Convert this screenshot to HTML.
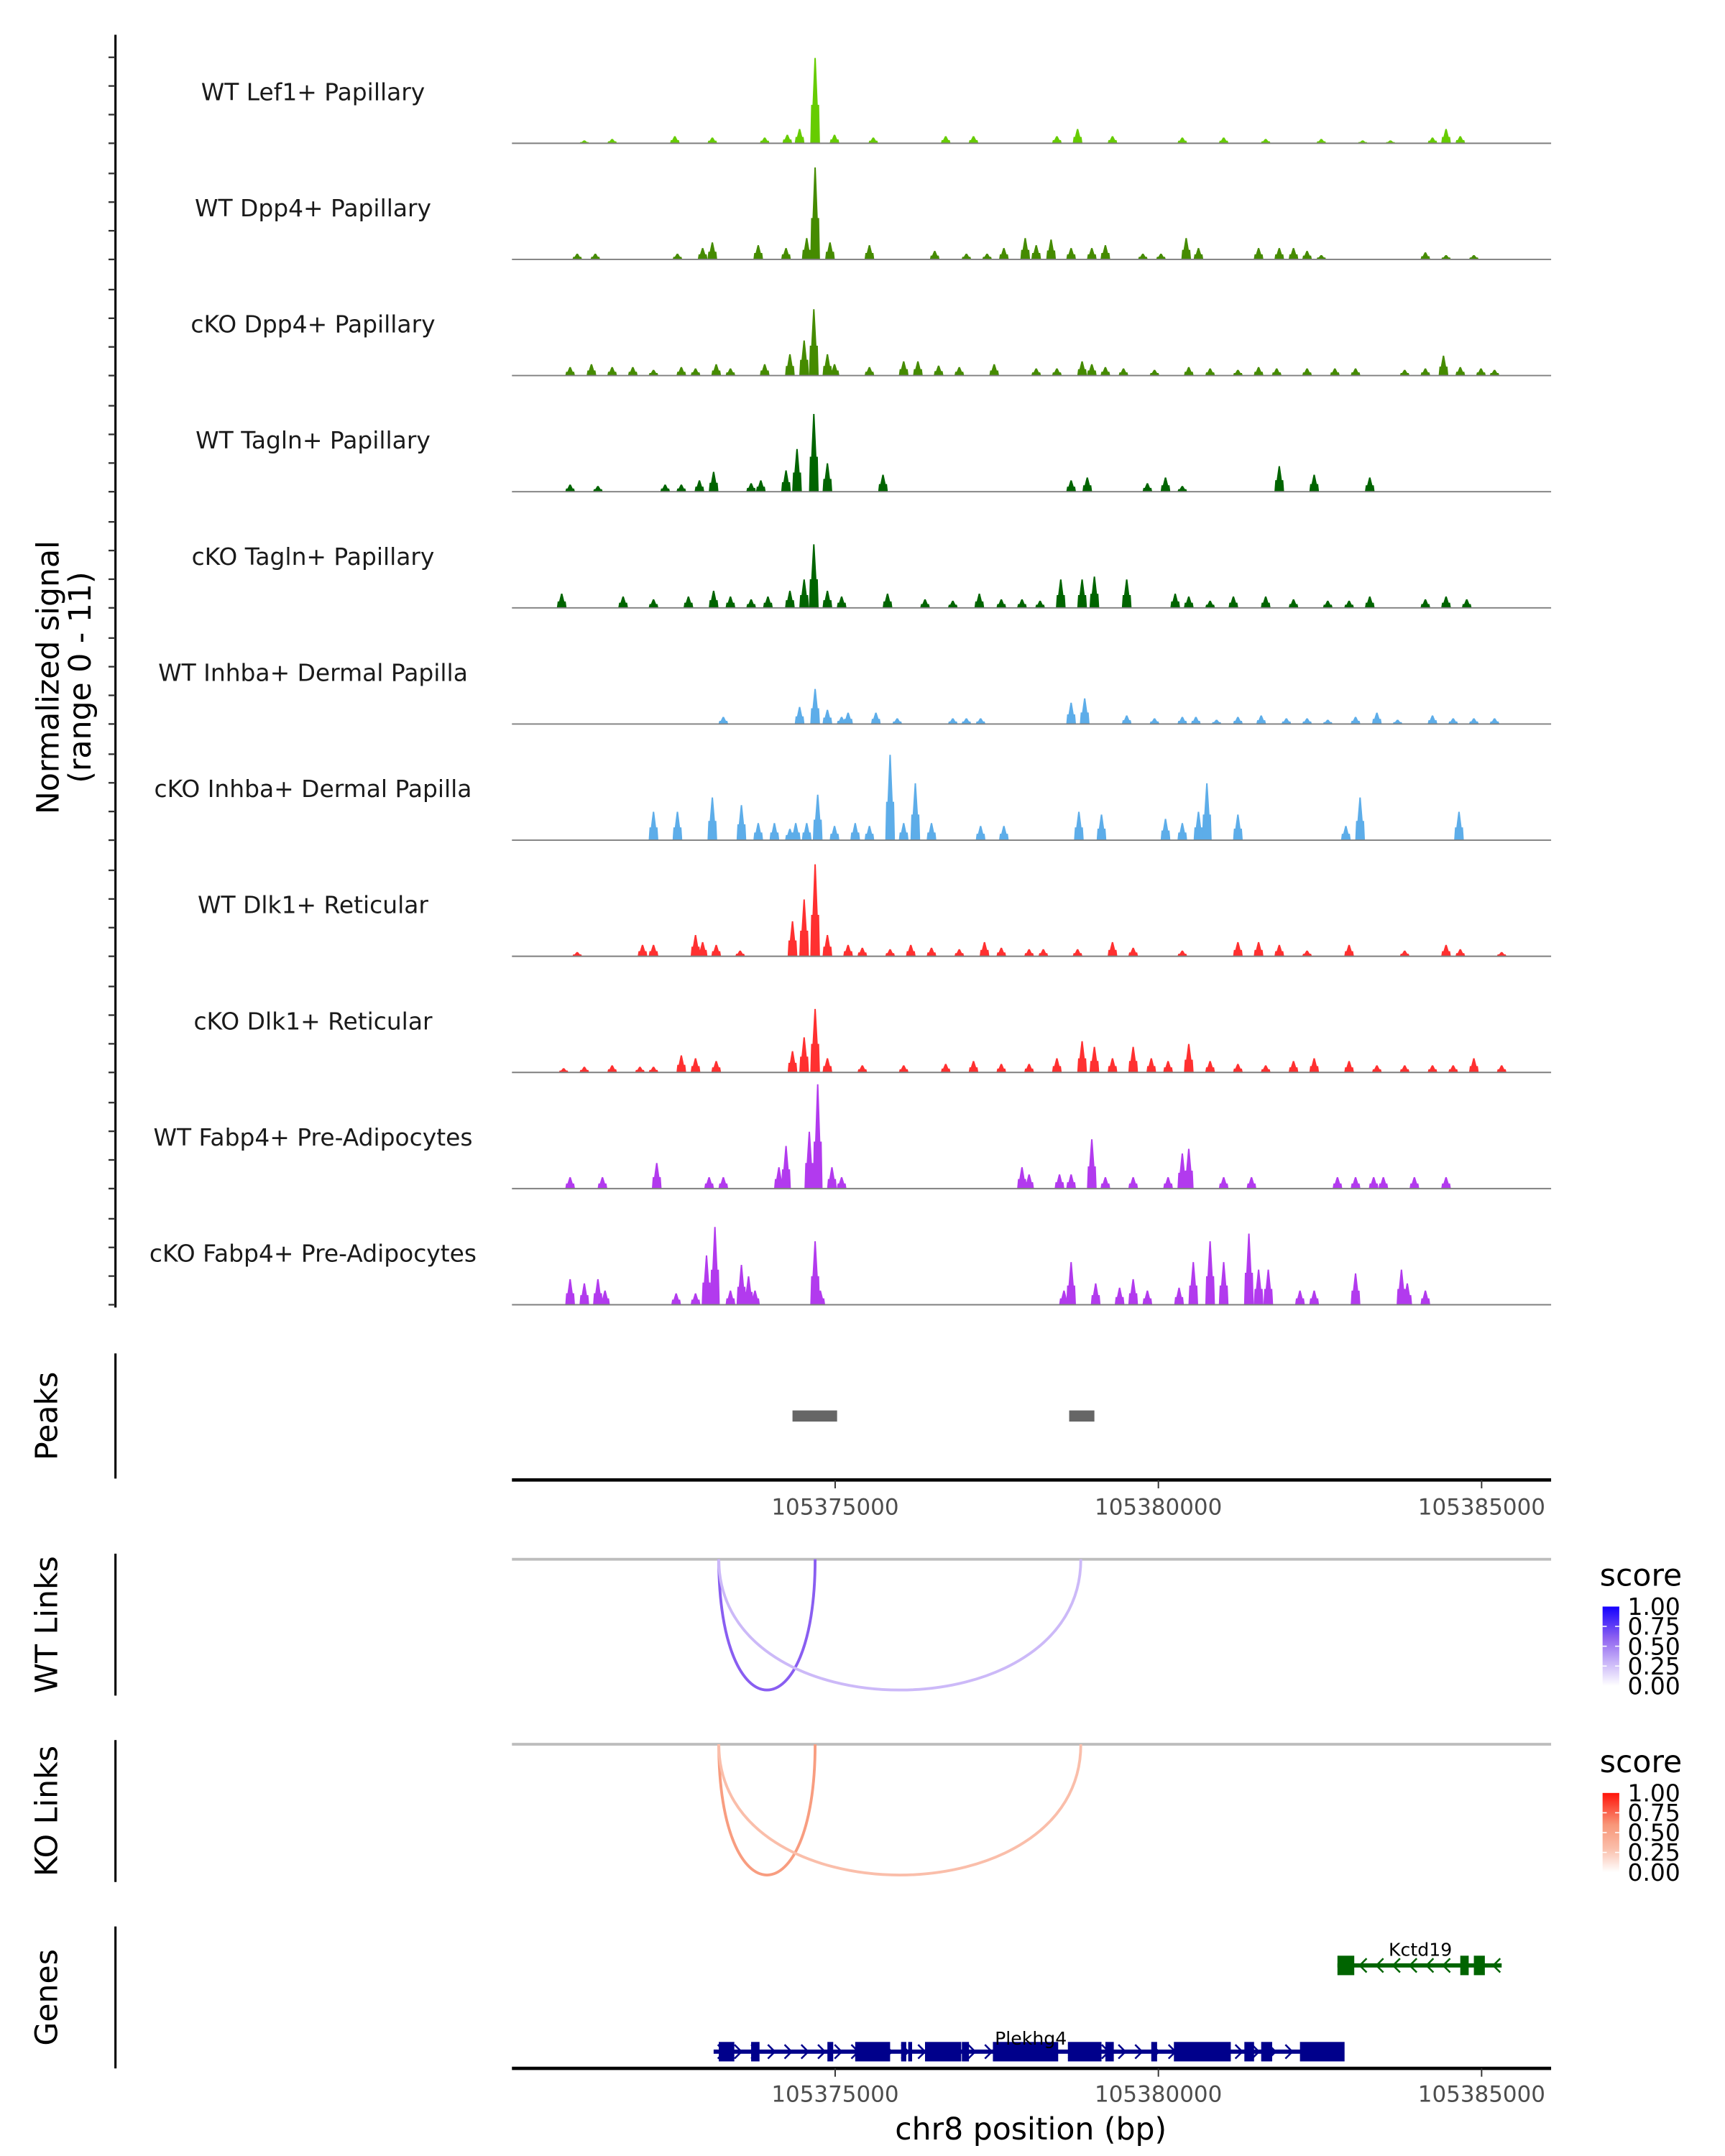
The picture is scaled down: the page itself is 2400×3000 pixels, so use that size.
<!DOCTYPE html>
<html><head><meta charset="utf-8"><style>
html,body{margin:0;padding:0;background:#fff;}
svg{display:block;font-family:"DejaVu Sans","Liberation Sans",sans-serif;}
</style></head><body>
<svg id="chart" width="2400" height="3000" viewBox="0 0 1240 1550" xmlns="http://www.w3.org/2000/svg">
<rect x="0" y="0" width="1240" height="1550" fill="#fff"/>
<g id="tracks"></g>
<g id="other"></g>
</svg>
<script>
// ===== data =====
const regionStartKb = 0;      // offset from 105370000
const regionEndKb = 16.075;
const xTickValues = [105375000, 105380000, 105385000];
const xTickLabels = ["105375000", "105380000", "105385000"];
const yRangeMax = 11;
const trackNames = ["WT Lef1+ Papillary","WT Dpp4+ Papillary","cKO Dpp4+ Papillary","WT Tagln+ Papillary","cKO Tagln+ Papillary","WT Inhba+ Dermal Papilla","cKO Inhba+ Dermal Papilla","WT Dlk1+ Reticular","cKO Dlk1+ Reticular","WT Fabp4+ Pre-Adipocytes","cKO Fabp4+ Pre-Adipocytes"];
const trackColors = ["#66cc00","#458b00","#458b00","#006400","#006400","#5dade9","#5dade9","#ff3030","#ff3030","#b23aee","#b23aee"];
// peak positions (kb from 105370000) and heights (normalized signal)
const pos0 = [4.69,4.45,4.26,3.91,2.52,3.10,1.12,1.55,4.99,5.59,6.71,7.14,8.75,8.43,9.29,10.37,11.01,11.66,12.52,13.16,13.59,14.45,14.67,14.24];
const val0 = [9.0,1.5,0.9,0.6,0.75,0.6,0.3,0.45,0.9,0.6,0.75,0.75,1.5,0.75,0.75,0.6,0.6,0.45,0.45,0.3,0.3,1.5,0.75,0.6];
const pos1 = [4.69,4.56,4.92,3.10,3.81,4.24,5.53,1.01,1.29,2.56,2.95,6.54,7.03,7.35,7.61,7.94,8.11,8.34,8.65,8.97,9.18,9.76,10.04,10.43,10.62,11.55,11.87,12.09,12.30,12.52,14.13,14.45,14.88];
const val1 = [9.7,2.25,1.8,1.8,1.5,1.2,1.5,0.6,0.6,0.6,1.2,0.9,0.6,0.6,1.2,2.25,1.5,2.1,1.2,1.2,1.5,0.6,0.6,2.25,1.2,1.2,1.2,1.2,0.9,0.45,0.75,0.45,0.45];
const pos2 = [4.67,4.52,4.30,4.88,3.91,3.16,2.62,0.90,1.23,1.55,1.87,2.19,2.84,3.38,4.99,5.53,6.06,6.28,6.60,6.92,7.46,8.11,8.43,8.82,8.97,9.18,9.46,9.94,10.47,10.80,11.23,11.55,11.83,12.30,12.73,13.05,13.81,14.13,14.41,14.67,14.99,15.20];
const val2 = [7.0,3.7,2.25,2.25,1.2,1.2,0.9,0.9,1.2,0.9,0.9,0.6,0.75,0.75,1.2,0.9,1.5,1.5,1.05,0.9,1.2,0.75,0.75,1.5,1.2,0.9,0.75,0.6,0.9,0.75,0.6,0.9,0.75,0.75,0.75,0.75,0.6,0.75,2.1,0.9,0.75,0.6];
const pos3 = [4.67,4.41,4.88,4.24,3.85,3.70,3.12,2.90,2.62,2.37,1.33,0.90,5.74,8.65,8.90,9.83,10.11,10.37,11.87,12.41,13.27];
const val3 = [8.2,4.5,3.0,2.25,1.2,0.9,2.1,1.2,0.75,0.75,0.6,0.75,1.8,1.2,1.5,0.9,1.5,0.6,2.7,1.8,1.5];
const pos4 = [4.67,4.52,4.30,4.88,5.10,0.77,1.72,2.19,2.73,3.12,3.38,3.70,3.96,5.81,6.39,6.82,7.23,7.57,7.89,8.17,8.49,8.82,9.01,9.51,10.26,10.47,10.80,11.16,11.66,12.09,12.62,12.95,13.27,14.13,14.45,14.77];
const val4 = [6.7,3.0,1.8,1.8,1.2,1.5,1.2,0.9,1.2,1.8,1.2,0.9,1.2,1.5,0.9,0.75,1.5,0.9,0.9,0.75,3.0,3.0,3.3,3.0,1.5,1.2,0.75,1.2,1.2,0.9,0.75,0.75,1.2,0.9,1.2,0.9];
const pos5 = [4.69,4.45,4.88,5.10,3.27,5.20,5.63,5.96,6.82,7.03,7.25,8.65,8.86,9.51,9.94,10.37,10.58,10.90,11.23,11.59,11.98,12.30,12.62,13.05,13.38,13.70,14.24,14.56,14.88,15.20];
const val5 = [3.7,1.8,1.5,0.75,0.75,1.2,1.2,0.6,0.6,0.6,0.6,2.25,2.7,0.9,0.6,0.75,0.75,0.45,0.75,0.9,0.6,0.6,0.45,0.75,1.2,0.45,0.9,0.6,0.6,0.6];
const pos6 = [5.85,6.24,6.06,4.73,4.56,4.39,2.19,2.56,3.10,3.55,3.81,4.06,4.30,4.99,5.31,5.53,6.49,7.25,7.61,8.77,9.12,10.11,10.75,10.62,10.37,11.23,12.90,13.12,14.65];
const val6 = [9.0,6.0,1.8,4.8,1.8,1.8,3.0,3.0,4.5,3.7,1.8,1.8,1.2,1.5,1.8,1.5,1.8,1.5,1.5,3.0,2.7,2.25,6.0,3.0,1.8,2.7,1.5,4.5,3.0];
const pos7 = [4.69,4.52,4.34,4.88,2.84,2.95,3.16,2.02,2.19,1.01,3.53,5.20,5.42,5.85,6.17,6.49,6.92,7.31,7.57,8.00,8.22,8.75,9.29,9.61,10.37,11.23,11.55,11.87,12.30,12.95,13.81,14.45,14.67,15.31];
const val7 = [9.7,6.0,3.7,2.25,2.25,1.5,1.2,1.2,1.2,0.45,0.6,1.2,0.9,0.75,1.2,0.9,0.75,1.5,0.9,0.75,0.75,0.75,1.5,0.9,0.6,1.5,1.5,1.2,0.6,1.2,0.6,1.2,0.75,0.45];
const pos8 = [4.69,4.52,4.34,4.88,0.80,1.12,1.55,1.98,2.19,2.62,2.84,3.16,5.42,6.06,6.71,7.14,7.57,8.00,8.43,8.82,9.01,9.29,9.61,9.89,10.47,10.15,10.80,11.23,11.66,12.09,12.41,12.95,13.38,13.81,14.24,14.56,14.88,15.31];
const val8 = [6.7,3.7,2.25,1.5,0.45,0.6,0.75,0.6,0.6,1.8,1.5,1.2,0.75,0.75,0.9,1.2,0.9,0.9,1.5,3.3,2.7,1.5,2.7,1.5,3.0,1.2,1.2,0.9,0.75,1.2,1.5,1.2,0.75,0.75,0.75,0.75,1.5,0.75];
const pos9 = [4.73,4.60,4.24,4.13,4.95,5.10,0.90,1.40,2.24,3.05,3.27,7.89,8.00,8.47,8.65,8.97,9.18,9.61,10.15,10.37,10.47,11.01,11.44,12.77,13.05,13.33,13.48,13.96,14.45];
const val9 = [11.0,6.0,4.5,2.25,2.25,1.2,1.2,1.2,2.7,1.2,1.2,2.25,1.5,1.5,1.5,5.2,1.2,1.2,1.2,3.7,4.2,1.2,1.2,1.2,1.2,1.2,1.2,1.2,1.2];
const pos10 = [3.14,3.01,3.55,3.66,3.76,4.69,4.77,0.90,1.12,1.33,1.44,2.54,2.84,3.38,8.65,8.54,9.03,9.40,9.61,9.83,10.32,10.54,10.80,11.01,11.40,11.55,11.70,12.19,12.41,13.05,13.76,13.85,14.13];
const val10 = [8.2,5.2,4.2,3.0,1.5,6.7,1.5,2.7,2.25,2.7,1.5,1.2,1.2,1.5,4.5,1.5,2.25,1.8,2.7,1.5,1.8,4.5,6.7,4.5,7.5,3.7,3.7,1.5,1.5,3.3,3.7,2.25,1.5];
const trackPos = [pos0,pos1,pos2,pos3,pos4,pos5,pos6,pos7,pos8,pos9,pos10];
const trackVal = [val0,val1,val2,val3,val4,val5,val6,val7,val8,val9,val10];
// peaks (kb)
const peakStarts = [4.34, 8.62];
const peakEnds = [5.03, 9.01];
// links (kb) and scores
const linkStarts = [3.20, 3.20];
const linkEnds = [4.69, 8.80];
const wtLinkScores = [0.62, 0.28];
const koLinkScores = [0.55, 0.30];
// genes (kb)
const plekhg4Start = 3.12, plekhg4End = 12.86;
const plekhg4ExonStarts = [3.20,3.70,4.88,5.31,6.02,6.13,6.39,6.96,7.44,8.60,9.18,9.89,10.24,11.33,11.59,12.19];
const plekhg4ExonEnds   = [3.44,3.83,4.97,5.85,6.10,6.19,6.95,7.07,8.45,9.12,9.31,9.98,11.12,11.48,11.76,12.88];
const kctd19Start = 12.77, kctd19End = 15.31;
const kctd19ExonStarts = [12.77,14.67,14.88];
const kctd19ExonEnds   = [13.03,14.80,15.05];
const legendTicks = [1.00,0.75,0.50,0.25,0.00];
const legendLabels = ["1.00","0.75","0.50","0.25","0.00"];

// ===== scales =====
const X0 = 368, X1 = 1115;
function xs(kb){ return X0 + (kb - regionStartKb)/(regionEndKb - regionStartKb)*(X1-X0); }
const trackH = 75;
function ys(v, base){ return base - v/yRangeMax*trackH; }
const NS = "http://www.w3.org/2000/svg";
function mk(tag, attrs, parent){ const e=document.createElementNS(NS,tag); for(const k in attrs) e.setAttribute(k,attrs[k]); parent.appendChild(e); return e; }
function txt(s, attrs, parent){ const e=mk('text',attrs,parent); e.textContent=s; return e; }
const tracksG = document.getElementById('tracks');
const other = document.getElementById('other');

// main y axis
let ax = mk('line',{x1:83,y1:25,x2:83,y2:940,stroke:'#000','stroke-width':1.6},tracksG);


const baselines = [];
for(let i=0;i<11;i++) baselines.push(103 + i*83.5);
for(let i=0;i<11;i++){
  for(let j=0;j<4;j++){
    const ty = baselines[i] - j*20.6;
    const t = mk('line',{x1:78,y1:ty,x2:83,y2:ty,stroke:'#333','stroke-width':1.2},tracksG);
    
    
  }
}
const yl = txt('Normalized signal',{x:0,y:0,'font-size':22,'text-anchor':'middle',transform:'translate(42,487) rotate(-90)',fill:'#000'},tracksG);


const yl2 = txt('(range 0 - 11)',{x:0,y:0,'font-size':22,'text-anchor':'middle',transform:'translate(65,487) rotate(-90)',fill:'#000'},tracksG);



for(let i=0;i<11;i++){
  const base = baselines[i];
  const g = mk('g',{},tracksG);
  
  
  const lab = txt(trackNames[i],{x:225,y:base-31,'font-size':17,'text-anchor':'middle',fill:'#1a1a1a'},g);
  
  
  const P = trackPos[i], V = trackVal[i];
  const hw = 0.075;
  for(let k=0;k<P.length;k++){
    const xa = xs(P[k]-hw), xm = xs(P[k]), xb = xs(P[k]+hw);
    const top = ys(V[k], base), sh = ys(V[k]*0.45, base);
    const p = mk('path',{d:`M${xa},${base} L${xa+0.6},${sh} L${xa+1.6},${sh} L${xm-0.5},${top} L${xm+0.5},${top} L${xb-1.6},${sh} L${xb-0.6},${sh} L${xb},${base} Z`,fill:trackColors[i]},g);
    
    
  }
  const bl = mk('line',{x1:X0,y1:base,x2:X1,y2:base,stroke:'#7f7f7f','stroke-width':1},g);
  
  
}

// panel y-axis lines and titles
const panels = [["Peaks",973,1063,1018],["WT Links",1117,1219,1168],["KO Links",1251,1353,1302],["Genes",1385,1487,1436]];
for(const pn of panels){
  const l = mk('line',{x1:83,y1:pn[1],x2:83,y2:pn[2],stroke:'#000','stroke-width':1.6},other);
  
  
  const t = txt(pn[0],{x:0,y:0,'font-size':22,'text-anchor':'middle',transform:`translate(41,${pn[3]}) rotate(-90)`,fill:'#000'},other);
  
  
}

// peaks
for(let k=0;k<peakStarts.length;k++){
  const r = mk('rect',{x:xs(peakStarts[k]),y:1014,width:xs(peakEnds[k])-xs(peakStarts[k]),height:8,fill:'#666'},other);
  
  
}
function xAxis(y, labY){
  const l = mk('line',{x1:X0,y1:y,x2:X1,y2:y,stroke:'#000','stroke-width':2.4},other);
  
  
  for(let k=0;k<xTickValues.length;k++){
    const xx = xs((xTickValues[k]-105370000)/1000);
    const t = mk('line',{x1:xx,y1:y,x2:xx,y2:y+6,stroke:'#333','stroke-width':1},other);
    
    
    const tl = txt(xTickLabels[k],{x:xx,y:labY,'font-size':16,'text-anchor':'middle',fill:'#4d4d4d'},other);
    
    
  }
}
xAxis(1064,1089);

// links
function mix(c1,c2,t){ return 'rgb('+c1.map((v,i)=>Math.round(v+(c2[i]-v)*t)).join(',')+')'; }
function scoreColor(s, stops){
  for(let i=0;i<stops.length-1;i++){ if(s<=stops[i+1][0]){ const t=(s-stops[i][0])/(stops[i+1][0]-stops[i][0]); return mix(stops[i][1],stops[i+1][1],t);} }
  return mix(stops[stops.length-1][1],stops[stops.length-1][1],0);
}
const blueStops = [[0,[255,255,255]],[0.3,[200,180,248]],[0.6,[143,99,240]],[1,[20,0,255]]];
const redStops = [[0,[255,255,255]],[0.3,[250,190,170]],[0.6,[248,150,120]],[1,[255,20,10]]];
function links(base, scores, stops, name){
  const bl = mk('line',{x1:X0,y1:base,x2:X1,y2:base,stroke:'#bdbdbd','stroke-width':2},other);
  
  
  const depth = 94;
  for(let k=0;k<linkStarts.length;k++){
    const a = xs(linkStarts[k]), b = xs(linkEnds[k]);
    const c = base + depth*4/3;
    const p = mk('path',{d:`M${a},${base} C${a},${c} ${b},${c} ${b},${base}`,fill:'none',stroke:scoreColor(scores[k],stops),'stroke-width':2},other);
    
    
  }
}
links(1121, wtLinkScores, blueStops, 'wt-link');
links(1254, koLinkScores, redStops, 'ko-link');

// legends
function legend(top, stops, id){
  const g = mk('g',{},other);
  
  
  const defs = mk('defs',{},g);
  const lg = mk('linearGradient',{id:id+'-grad',x1:0,y1:1,x2:0,y2:0},defs);
  for(const s of stops) mk('stop',{offset:s[0],'stop-color':mix(s[1],s[1],0)},lg);
  txt('score',{x:1150,y:top,'font-size':22,fill:'#000'},g);
  const by = top+15, bh = 57;
  mk('rect',{x:1152,y:by,width:12,height:bh,fill:`url(#${id}-grad)`},g);
  for(let k=0;k<legendTicks.length;k++){
    const yy = by + (1-legendTicks[k])*bh;
    txt(legendLabels[k],{x:1170,y:yy+6,'font-size':17,fill:'#000'},g);
    if(k>0 && k<legendTicks.length-1){
      mk('line',{x1:1152,y1:yy,x2:1155,y2:yy,stroke:'#fff','stroke-width':0.8},g);
      mk('line',{x1:1161,y1:yy,x2:1164,y2:yy,stroke:'#fff','stroke-width':0.8},g);
    }
  }
}
legend(1140, blueStops, 'wt-score-legend');
legend(1274, redStops, 'ko-score-legend');

// genes
function gene(start,end,es,ee,y,color,label,labX,labY,dir,name){
  const g = mk('g',{},other);
  
  
  mk('line',{x1:xs(start),y1:y,x2:xs(end),y2:y,stroke:color,'stroke-width':3},g);
  for(let x=xs(start)+6;x<xs(end)-4;x+=12){
    const d = dir>0 ? `M${x-3},${y-5} L${x+2},${y} L${x-3},${y+5}` : `M${x+3},${y-5} L${x-2},${y} L${x+3},${y+5}`;
    mk('path',{d:d,fill:'none',stroke:color,'stroke-width':1.3},g);
  }
  for(let k=0;k<es.length;k++){
    const r = mk('rect',{x:xs(es[k]),y:y-7,width:Math.max(2,xs(ee[k])-xs(es[k])),height:14,fill:color},g);
    
    
  }
  const t = txt(label,{x:labX,y:labY,'font-size':13,'text-anchor':'middle',fill:'#000'},g);
  
  
}
gene(kctd19Start,kctd19End,kctd19ExonStarts,kctd19ExonEnds,1413,'#006400','Kctd19',1021,1406,-1,'gene-kctd19');
gene(plekhg4Start,plekhg4End,plekhg4ExonStarts,plekhg4ExonEnds,1475,'#00008b','Plekhg4',741,1470,1,'gene-plekhg4');
xAxis(1487,1511);
const xt = txt('chr8 position (bp)',{x:741,y:1538,'font-size':22,'text-anchor':'middle',fill:'#000'},other);


</script>
</body></html>
